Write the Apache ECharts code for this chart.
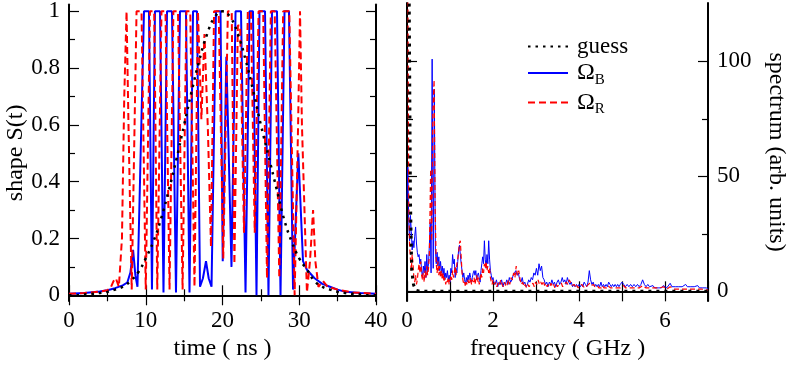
<!DOCTYPE html>
<html>
<head>
<meta charset="utf-8">
<script src="https://cdn.jsdelivr.net/npm/echarts@6/dist/echarts.min.js"></script>
<style>
  html, body { margin: 0; padding: 0; background: #fff; }
  #chart { width: 789px; height: 366px; }
</style>
</head>
<body>
<div id="chart"></div>
<script>
// time axis (ns) vs pulse shape S(t)
const guessShape = [
  [0, 0.0], [1, 0.0], [2, 0.003], [3, 0.005], [4, 0.008], [5, 0.012], [6, 0.02], [7, 0.03],
  [8, 0.05], [9, 0.08], [10, 0.13], [11, 0.19], [12, 0.27], [13, 0.37], [14, 0.48],
  [15, 0.6], [16, 0.72], [17, 0.83], [18, 0.92], [19, 0.98], [20, 1.0], [21, 0.98],
  [22, 0.92], [23, 0.83], [24, 0.72], [25, 0.6], [26, 0.49], [27, 0.38], [28, 0.27],
  [29, 0.19], [30, 0.13], [31, 0.09], [32, 0.05], [33, 0.03], [34, 0.02], [35, 0.012],
  [36, 0.008], [37, 0.005], [38, 0.003], [39, 0.0], [40, 0.0]
];

const omegaBShape = [
  [0, 0.005], [2, 0.008], [4, 0.013], [5, 0.018], [6, 0.025], [7, 0.035], [7.6, 0.045],
  [8.0, 0.08], [8.35, 0.16], [8.65, 0.07], [8.92, 0.03], [9.25, 0.4], [9.77, 1], [10.42, 1],
  [10.81, 0.02], [11.2, 1], [11.86, 1], [12.31, 0.01], [12.77, 1], [13.42, 1], [13.94, 0.01],
  [14.46, 1], [15.24, 1], [15.7, 0.01], [16.16, 1], [16.68, 1], [17.07, 0.03], [17.45, 0.06],
  [17.85, 0.12], [18.2, 0.06], [18.57, 0.03], [19.15, 1], [19.74, 1], [20.03, 0.12],
  [20.5, 0.84], [21.17, 0.1], [21.7, 1], [22.41, 1], [23.0, 0.01], [23.52, 1], [23.97, 1],
  [24.43, 0.0], [24.82, 1], [25.54, 1], [25.99, 0.0], [26.45, 1], [27.1, 1], [27.56, 0.0],
  [28.08, 1], [28.66, 1], [29.19, 0.02], [29.88, 0.5], [30.49, 0.12], [31, 0.09], [32, 0.06],
  [33, 0.04], [34, 0.03], [35, 0.02], [36, 0.012], [38, 0.008], [40, 0.005]
];

const omegaRShape = [
  [0, 0.005], [2, 0.008], [4, 0.013], [5, 0.018], [5.4, 0.025], [5.8, 0.05], [6.1, 0.06],
  [6.5, 0.03], [6.9, 0.2], [7.2, 0.7], [7.5, 1], [7.75, 0.6], [8.17, 0.02], [8.8, 1],
  [9.45, 1], [10.0, 0.02], [10.55, 1], [11.1, 1], [11.5, 0.02], [12.05, 1], [12.57, 1],
  [13.1, 0.02], [13.6, 1], [14.2, 1], [14.8, 0.02], [15.3, 1], [15.8, 1], [16.35, 0.03],
  [16.8, 1], [17.05, 1], [17.25, 0.62], [17.65, 0.92], [18.1, 0.58], [18.5, 0.17], [18.9, 1],
  [19.5, 1], [20.1, 0.13], [20.7, 1], [21.2, 1], [21.55, 0.11], [22.0, 0.95], [22.3, 0.95],
  [22.8, 0.22], [23.3, 1], [23.7, 1], [24.2, 0.22], [24.7, 1], [25.3, 1], [25.8, 0.06],
  [26.3, 1], [26.8, 1], [27.4, 0.06], [27.9, 1], [28.7, 1], [29.4, 0.0], [29.85, 0.6],
  [30.1, 1], [30.35, 0.6], [31.0, 0.01], [31.4, 0.12], [31.8, 0.3], [32.1, 0.12], [32.5, 0.03],
  [33.1, 0.05], [33.7, 0.03], [35, 0.02], [37, 0.01], [40, 0.005]
];

// frequency axis (GHz) vs spectrum
const guessSpec = [
  [0, 400], [0.05, 130], [0.08, 40], [0.11, 9], [0.15, 3], [0.2, 0.5], [0.3, 0], [7, 0]
];

const omegaBSpec = [
  [0.00, 40], [0.02, 54], [0.04, 30], [0.06, 22], [0.08, 33], [0.10, 26], [0.12, 18], [0.14, 22],
  [0.16, 19], [0.18, 24], [0.20, 28], [0.22, 21], [0.24, 17], [0.26, 15], [0.28, 16], [0.30, 12],
  [0.32, 14], [0.34, 9], [0.36, 6], [0.38, 11], [0.40, 8], [0.42, 13], [0.44, 6], [0.46, 16],
  [0.48, 9], [0.50, 12], [0.52, 20], [0.54, 30], [0.56, 8], [0.585, 101], [0.61, 10], [0.635, 88],
  [0.66, 18], [0.68, 12], [0.70, 17], [0.72, 11], [0.74, 15], [0.76, 9], [0.78, 13], [0.80, 8],
  [0.82, 11], [0.84, 7], [0.86, 10], [0.88, 5], [0.90, 8], [0.92, 6], [0.94, 9], [0.96, 5],
  [0.98, 7], [1.00, 4], [1.02, 10], [1.04, 8], [1.06, 16], [1.08, 12], [1.10, 14], [1.12, 6],
  [1.14, 10], [1.16, 8], [1.18, 13], [1.20, 18], [1.22, 20], [1.24, 16], [1.26, 12], [1.28, 9],
  [1.30, 6], [1.32, 8], [1.34, 5], [1.36, 3], [1.38, 6], [1.40, 4], [1.42, 7], [1.44, 5],
  [1.46, 8], [1.48, 6], [1.50, 4], [1.52, 6], [1.54, 8], [1.56, 9], [1.58, 7], [1.60, 9],
  [1.62, 5], [1.64, 7], [1.66, 8], [1.68, 6], [1.70, 4], [1.72, 9], [1.74, 12], [1.76, 15],
  [1.78, 12], [1.80, 22], [1.82, 14], [1.84, 10], [1.86, 16], [1.88, 12], [1.90, 22], [1.92, 14],
  [1.94, 9], [1.96, 7], [1.98, 5], [2.00, 6], [2.02, 4], [2.05, 3], [2.08, 5], [2.11, 2],
  [2.14, 4], [2.17, 3], [2.20, 5], [2.23, 2], [2.26, 4], [2.29, 3], [2.32, 5], [2.35, 3],
  [2.38, 6], [2.41, 4], [2.44, 5], [2.47, 7], [2.50, 8], [2.53, 9], [2.56, 7], [2.59, 8],
  [2.62, 5], [2.65, 4], [2.68, 6], [2.71, 3], [2.74, 4], [2.77, 2], [2.80, 3], [2.83, 5],
  [2.86, 4], [2.89, 6], [2.92, 5], [2.95, 8], [2.98, 7], [3.01, 10], [3.04, 7], [3.07, 12],
  [3.10, 9], [3.13, 11], [3.16, 6], [3.19, 5], [3.22, 3], [3.25, 4], [3.28, 2], [3.31, 4],
  [3.34, 3], [3.37, 5], [3.40, 3], [3.43, 4], [3.46, 2], [3.49, 4], [3.52, 5], [3.55, 3],
  [3.58, 4], [3.61, 6], [3.64, 4], [3.67, 5], [3.70, 3], [3.73, 6], [3.76, 4], [3.79, 3],
  [3.82, 4], [3.85, 2], [3.88, 3], [3.91, 2], [3.94, 3], [3.97, 2], [4.00, 3], [4.03, 2],
  [4.06, 3], [4.09, 2], [4.12, 4], [4.15, 3], [4.18, 2], [4.21, 4], [4.24, 9], [4.27, 5],
  [4.30, 3], [4.33, 4], [4.36, 2], [4.39, 3], [4.42, 2], [4.45, 3], [4.48, 2], [4.51, 4],
  [4.54, 2], [4.57, 3], [4.60, 2], [4.63, 3], [4.66, 2], [4.69, 4], [4.72, 3], [4.75, 2],
  [4.78, 3], [4.81, 2], [4.84, 3], [4.87, 2], [4.90, 3], [4.93, 2], [4.96, 3], [5.00, 4],
  [5.04, 3], [5.08, 2], [5.12, 3], [5.16, 2], [5.20, 3], [5.24, 2], [5.28, 3], [5.32, 2],
  [5.36, 3], [5.40, 2], [5.44, 3], [5.48, 5], [5.52, 3], [5.56, 2], [5.60, 3], [5.64, 2],
  [5.68, 1.5], [5.72, 2.5], [5.76, 1.5], [5.80, 2], [5.84, 1.5], [5.88, 2], [5.92, 1.5], [5.96, 2.5],
  [6.00, 2], [6.04, 1.5], [6.08, 2], [6.12, 3.5], [6.16, 2], [6.20, 1.5], [6.24, 2], [6.28, 1.5],
  [6.32, 2], [6.36, 1.5], [6.40, 2], [6.44, 2.5], [6.48, 3], [6.52, 2], [6.56, 1.5], [6.60, 2],
  [6.64, 1.5], [6.68, 2], [6.72, 1.5], [6.76, 2.5], [6.80, 1.5], [6.84, 2], [6.88, 1.5], [6.92, 2],
  [6.96, 1.5], [7.00, 1]
];

const omegaRSpec = [
  [0.00, 300], [0.02, 140], [0.04, 40], [0.06, 20], [0.08, 14], [0.10, 9], [0.12, 16], [0.14, 12],
  [0.16, 6], [0.18, 4], [0.20, 7], [0.22, 3], [0.24, 5], [0.26, 9], [0.28, 12], [0.30, 8],
  [0.32, 13], [0.34, 7], [0.36, 5], [0.38, 8], [0.40, 4], [0.42, 9], [0.44, 6], [0.46, 11],
  [0.48, 7], [0.50, 10], [0.52, 16], [0.55, 53], [0.575, 22], [0.60, 78], [0.63, 92], [0.655, 35],
  [0.68, 12], [0.70, 8], [0.72, 13], [0.74, 7], [0.76, 11], [0.78, 6], [0.80, 9], [0.82, 5],
  [0.84, 8], [0.86, 4], [0.88, 6], [0.90, 3], [0.92, 5], [0.94, 4], [0.96, 6], [0.98, 3],
  [1.00, 5], [1.02, 7], [1.04, 5], [1.06, 9], [1.08, 6], [1.10, 8], [1.12, 11], [1.14, 7],
  [1.16, 12], [1.18, 14], [1.20, 17], [1.22, 21], [1.24, 22], [1.26, 15], [1.28, 8], [1.30, 5],
  [1.32, 3], [1.34, 4], [1.36, 2], [1.38, 4], [1.40, 3], [1.42, 5], [1.44, 3], [1.46, 4],
  [1.48, 6], [1.50, 3], [1.52, 5], [1.54, 4], [1.56, 6], [1.58, 3], [1.60, 5], [1.62, 7],
  [1.64, 4], [1.66, 6], [1.68, 3], [1.70, 5], [1.72, 8], [1.74, 6], [1.76, 10], [1.78, 8],
  [1.80, 12], [1.82, 10], [1.84, 13], [1.86, 9], [1.88, 11], [1.90, 8], [1.92, 10], [1.94, 6],
  [1.96, 4], [1.98, 3], [2.00, 5], [2.03, 3], [2.06, 4], [2.09, 2], [2.12, 4], [2.15, 3],
  [2.18, 5], [2.21, 3], [2.24, 2], [2.27, 4], [2.30, 2], [2.33, 3], [2.36, 5], [2.39, 3],
  [2.42, 6], [2.45, 5], [2.48, 8], [2.51, 6], [2.54, 11], [2.57, 7], [2.60, 9], [2.63, 5],
  [2.66, 3], [2.69, 4], [2.72, 2], [2.75, 3], [2.78, 1.5], [2.81, 3], [2.84, 2], [2.87, 3],
  [2.90, 2.5], [2.93, 3.5], [2.96, 2], [2.99, 4], [3.02, 3], [3.05, 5], [3.08, 3], [3.11, 4],
  [3.14, 3], [3.17, 4.5], [3.20, 2.5], [3.23, 3.5], [3.26, 2], [3.29, 3], [3.32, 2], [3.35, 3.5],
  [3.38, 2], [3.41, 3], [3.44, 1.5], [3.47, 3], [3.50, 2], [3.53, 3], [3.56, 2.5], [3.59, 3.5],
  [3.62, 2], [3.65, 3], [3.68, 2.5], [3.71, 4], [3.74, 3], [3.77, 5], [3.80, 4], [3.83, 2.5],
  [3.86, 2], [3.89, 3], [3.92, 1.5], [3.95, 2.5], [3.98, 1.5], [4.01, 2.5], [4.04, 2], [4.07, 3],
  [4.10, 2], [4.13, 2.5], [4.16, 1.5], [4.19, 2.5], [4.22, 3], [4.25, 3.5], [4.28, 2.5], [4.31, 2],
  [4.34, 3], [4.37, 2], [4.40, 1.5], [4.43, 2.5], [4.46, 1.5], [4.49, 2], [4.52, 1.5], [4.55, 2.5],
  [4.58, 1.5], [4.61, 2], [4.64, 1.5], [4.67, 2.5], [4.70, 2], [4.73, 1.5], [4.76, 2], [4.80, 1.5],
  [4.84, 2], [4.88, 1.5], [4.92, 2], [4.96, 1.5], [5.00, 2], [5.04, 2.5], [5.08, 1.5], [5.12, 2],
  [5.16, 1.5], [5.20, 2], [5.24, 1.5], [5.28, 2], [5.32, 1.5], [5.36, 2], [5.40, 1.5], [5.44, 2],
  [5.48, 2.5], [5.52, 2], [5.56, 1.5], [5.60, 2], [5.64, 1.5], [5.68, 1], [5.72, 1.5], [5.76, 1],
  [5.80, 1.5], [5.84, 1], [5.88, 1.5], [5.92, 1], [5.96, 2], [6.00, 1.5], [6.04, 1], [6.08, 1.5],
  [6.12, 2], [6.16, 1.5], [6.20, 1], [6.24, 1.5], [6.28, 1], [6.32, 1.5], [6.36, 1], [6.40, 1.5],
  [6.44, 1], [6.48, 1.5], [6.52, 1], [6.56, 1.5], [6.60, 1], [6.64, 1.5], [6.68, 1], [6.72, 1.5],
  [6.76, 1], [6.80, 1.5], [6.84, 1], [6.88, 1.2], [6.92, 0.8], [6.96, 1], [7.00, 0.5]
];

// tick values
const shapeMajorTicks = [0, 0.2, 0.4, 0.6, 0.8, 1];
const shapeMinorTicks = [0.1, 0.3, 0.5, 0.7, 0.9];
const specMajorTicks = [0, 50, 100];
const specMinorTicks = [25, 75];

const FONT = 'Liberation Serif';
const black = '#000';

const chart = echarts.init(document.getElementById('chart'));

// helper for the plain tick-only axes (frame sides)
const tickAxis = (extra) => Object.assign({
  type: 'value',
  axisLine: { show: true, lineStyle: { color: black, width: 2 } },
  axisTick: { show: true, inside: true, length: 10, lineStyle: { color: black, width: 1.2 } },
  axisLabel: { show: false },
  splitLine: { show: false }
}, extra);

const minorAxis = (extra, values) => Object.assign({
  type: 'value',
  axisLine: { show: false },
  axisTick: { show: true, inside: true, length: 6, customValues: values, lineStyle: { color: black, width: 1.2 } },
  axisLabel: { show: false },
  splitLine: { show: false }
}, extra);

const labelStyle = { color: black, fontFamily: FONT, fontSize: 23 };
const nameStyle = { color: black, fontFamily: FONT, fontSize: 24 };

const option = {
  animation: false,
  backgroundColor: '#fff',
  grid: [
    { left: 69, top: 3, width: 307, height: 305 },
    { left: 407, top: 3, width: 306, height: 305 }
  ],
  legend: {
    data: ['guess', 'ΩB', 'ΩR'],
    orient: 'vertical',
    left: 522,
    top: 30,
    itemWidth: 40,
    itemHeight: 14,
    itemGap: 3,
    itemStyle: { opacity: 0 },
    textStyle: {
      color: black, fontFamily: FONT, fontSize: 23, padding: [0, 0, 0, 4],
      rich: {
        o: { fontFamily: FONT, fontSize: 24, color: black },
        s: { fontFamily: FONT, fontSize: 15, color: black, padding: [14, 0, 0, 0] }
      }
    },
    formatter: (name) => name === 'guess' ? name : '{o|Ω}{s|' + name.slice(1) + '}'
  },
  xAxis: [
    tickAxis({
      gridIndex: 0, position: 'bottom', min: 0, max: 40, interval: 10,
      minorTick: { show: true, splitNumber: 2, length: 6, lineStyle: { color: black, width: 1.2 } },
      axisLabel: Object.assign({ show: true, margin: 8 }, labelStyle),
      name: 'time ( ns )', nameLocation: 'middle', nameGap: 30, nameTextStyle: nameStyle
    }),
    tickAxis({
      gridIndex: 0, position: 'top', min: 0, max: 40, interval: 10,
      minorTick: { show: true, splitNumber: 2, length: 6, lineStyle: { color: black, width: 1.2 } }
    }),
    tickAxis({
      gridIndex: 1, position: 'bottom', min: 0, max: 7, interval: 1,
      axisLabel: Object.assign({
        show: true, margin: 8,
        formatter: (v) => (v % 2 === 0 && v < 7) ? String(v) : ''
      }, labelStyle),
      name: 'frequency ( GHz )', nameLocation: 'middle', nameGap: 30, nameTextStyle: nameStyle
    }),
    tickAxis({ gridIndex: 1, position: 'top', min: 0, max: 7, interval: 1 })
  ],
  yAxis: [
    tickAxis({
      gridIndex: 0, position: 'left', min: -0.0205, max: 1.024,
      axisTick: { show: true, inside: true, length: 10, customValues: shapeMajorTicks, lineStyle: { color: black, width: 1.2 } },
      axisLabel: Object.assign({ show: true, margin: 9, customValues: shapeMajorTicks }, labelStyle),
      name: 'shape S(t)', nameLocation: 'middle', nameGap: 34, nameTextStyle: nameStyle
    }),
    minorAxis({ gridIndex: 0, position: 'left', min: -0.0205, max: 1.024 }, shapeMinorTicks),
    tickAxis({
      gridIndex: 0, position: 'right', min: -0.0205, max: 1.024,
      axisTick: { show: true, inside: true, length: 10, customValues: shapeMajorTicks, lineStyle: { color: black, width: 1.2 } }
    }),
    minorAxis({ gridIndex: 0, position: 'right', min: -0.0205, max: 1.024 }, shapeMinorTicks),
    tickAxis({
      gridIndex: 1, position: 'left', min: -4.25, max: 125.4,
      axisTick: { show: true, inside: true, length: 10, customValues: specMajorTicks, lineStyle: { color: black, width: 1.2 } }
    }),
    minorAxis({ gridIndex: 1, position: 'left', min: -4.25, max: 125.4 }, specMinorTicks),
    tickAxis({
      gridIndex: 1, position: 'right', min: -4.25, max: 125.4,
      axisTick: { show: true, inside: true, length: 10, customValues: specMajorTicks, lineStyle: { color: black, width: 1.2 } },
      axisLabel: Object.assign({ show: true, margin: 9, customValues: specMajorTicks }, labelStyle),
      name: 'spectrum (arb. units)', nameLocation: 'middle', nameRotate: -90, nameGap: 56,
      nameTextStyle: nameStyle
    }),
    minorAxis({ gridIndex: 1, position: 'right', min: -4.25, max: 125.4 }, specMinorTicks)
  ],
  series: [
    {
      name: 'ΩB', type: 'line', xAxisIndex: 0, yAxisIndex: 0, data: omegaBShape,
      symbol: 'none', lineStyle: { color: '#0000ff', width: 2 }, itemStyle: { color: '#0000ff' }
    },
    {
      name: 'ΩR', type: 'line', xAxisIndex: 0, yAxisIndex: 0, data: omegaRShape,
      symbol: 'none', lineStyle: { color: '#ff0000', width: 2, type: [7, 4] }, itemStyle: { color: '#ff0000' }
    },
    {
      name: 'guess', type: 'line', xAxisIndex: 0, yAxisIndex: 0, data: guessShape, smooth: true,
      symbol: 'none', lineStyle: { color: black, width: 2.5, type: [2.5, 5] }, itemStyle: { color: black }
    },
    {
      name: 'ΩB', type: 'line', xAxisIndex: 2, yAxisIndex: 4, data: omegaBSpec,
      symbol: 'none', lineStyle: { color: '#0000ff', width: 1 }, itemStyle: { color: '#0000ff' }
    },
    {
      name: 'ΩR', type: 'line', xAxisIndex: 2, yAxisIndex: 4, data: omegaRSpec,
      symbol: 'none', lineStyle: { color: '#ff0000', width: 1.2, type: [5, 3] }, itemStyle: { color: '#ff0000' }
    },
    {
      name: 'guess', type: 'line', xAxisIndex: 2, yAxisIndex: 4, data: guessSpec,
      symbol: 'none', lineStyle: { color: black, width: 3, type: [3, 5] }, itemStyle: { color: black }
    }
  ]
};

chart.setOption(option);
</script>
</body>
</html>
